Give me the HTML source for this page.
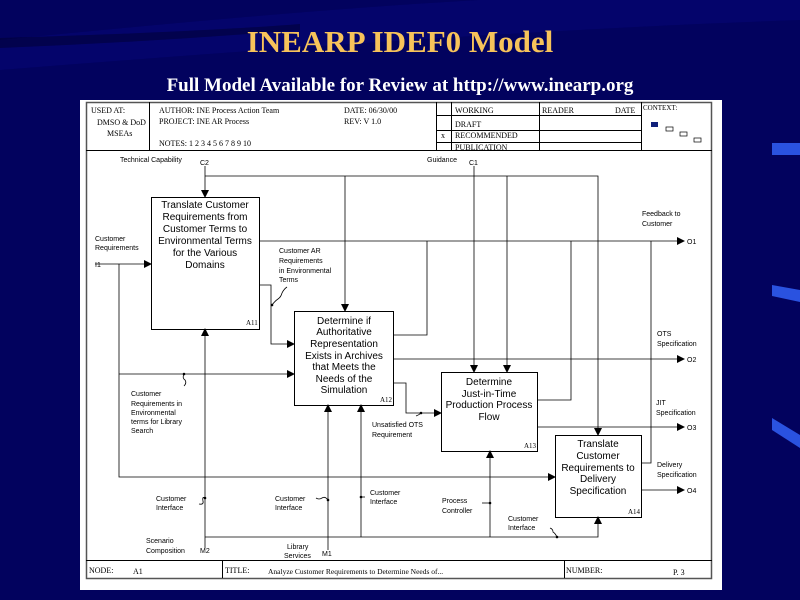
<!DOCTYPE html>
<html><head><meta charset="utf-8"><style>
html,body{margin:0;padding:0;width:800px;height:600px;overflow:hidden;background:#02025e}
svg{display:block}
.s{font-family:"Liberation Serif",serif;font-size:8px;fill:#000}
.a{font-family:"Liberation Sans",sans-serif;font-size:7px;fill:#000}
.b{font-family:"Liberation Sans",sans-serif;font-size:10px;fill:#000}
</style></head><body>
<svg width="800" height="600" viewBox="0 0 800 600" xmlns="http://www.w3.org/2000/svg">
<defs><marker id="ar" markerWidth="8" markerHeight="8" refX="7" refY="4" orient="auto" markerUnits="userSpaceOnUse"><path d="M0,0 L8,4 L0,8z" fill="#000"/></marker></defs>
<rect width="800" height="600" fill="#02025e"/>
<path d="M0,40 Q300,10 480,0 L800,0 L800,20 Q500,30 0,70z" fill="#050577" opacity="0.5"/>
<path d="M0,38 Q200,32 300,24 L300,30 Q150,42 0,48z" fill="#000030" opacity="0.5"/>
<rect x="772" y="143" width="28" height="12" fill="#2a52e0"/>
<polygon points="772,285 800,290 800,302 772,296" fill="#2a52e0"/>
<polygon points="772,418 800,435 800,448 772,430" fill="#2a52e0"/>
<text x="400" y="52" text-anchor="middle" font-family="Liberation Serif,serif" font-weight="bold" font-size="31" fill="#f7c35a">INEARP IDEF0 Model</text>
<text x="400" y="91" text-anchor="middle" font-family="Liberation Serif,serif" font-weight="bold" font-size="19" fill="#fff">Full Model Available for Review at http://www.inearp.org</text>
<rect x="80" y="100" width="642" height="490" fill="#fff"/>
<g fill="none" stroke="#000" stroke-width="1">
<rect x="86.5" y="102.5" width="625" height="476" stroke="#555" stroke-width="1.5"/>
<line x1="86" y1="150.5" x2="712" y2="150.5"/>
<line x1="149.5" y1="102" x2="149.5" y2="150"/>
<line x1="436.5" y1="102" x2="436.5" y2="150"/>
<line x1="451.5" y1="102" x2="451.5" y2="150"/>
<line x1="539.5" y1="102" x2="539.5" y2="150"/>
<line x1="641.5" y1="102" x2="641.5" y2="150"/>
<line x1="436" y1="115.5" x2="641" y2="115.5"/>
<line x1="436" y1="130.5" x2="641" y2="130.5"/>
<line x1="436" y1="142.5" x2="641" y2="142.5"/>
<line x1="86" y1="560.5" x2="712" y2="560.5"/>
<line x1="222.5" y1="560" x2="222.5" y2="578"/>
<line x1="564.5" y1="560" x2="564.5" y2="578"/>
</g>
<rect x="651" y="122" width="7" height="5" fill="#10207a"/>
<g fill="none" stroke="#000" stroke-width="0.7"><rect x="666" y="127" width="7" height="4"/><rect x="680" y="132" width="7" height="4"/><rect x="694" y="138" width="7" height="4"/></g>
<g class="s">
<text x="91" y="113">USED AT:</text>
<text x="97" y="125">DMSO &amp; DoD</text><text x="107" y="136">MSEAs</text>
<text x="159" y="113">AUTHOR:  INE Process Action Team</text>
<text x="159" y="124">PROJECT:  INE AR Process</text>
<text x="159" y="146">NOTES:  1  2  3  4  5  6  7  8  9  10</text>
<text x="344" y="113">DATE:  06/30/00</text>
<text x="344" y="124">REV:    V 1.0</text>
<text x="455" y="113">WORKING</text><text x="455" y="127">DRAFT</text>
<text x="441" y="138">x</text><text x="455" y="138">RECOMMENDED</text>
<text x="455" y="150">PUBLICATION</text>
<text x="542" y="113">READER</text><text x="615" y="113">DATE</text>
<text x="643" y="110" font-size="7">CONTEXT:</text>
<text x="89" y="573">NODE:</text><text x="133" y="574">A1</text>
<text x="225" y="573">TITLE:</text>
<text x="268" y="574" font-size="7.5">Analyze Customer Requirements to Determine  Needs of...</text>
<text x="566" y="573">NUMBER:</text><text x="673" y="575">P. 3</text>
<text x="246" y="325" font-size="7">A11</text><text x="380" y="402" font-size="7">A12</text>
<text x="524" y="448" font-size="7">A13</text><text x="628" y="514" font-size="7">A14</text>
</g>
<g fill="none" stroke="#000" stroke-width="1">
<rect x="151.5" y="197.5" width="108" height="132"/>
<rect x="294.5" y="311.5" width="99" height="94"/>
<rect x="441.5" y="372.5" width="96" height="79"/>
<rect x="555.5" y="435.5" width="86" height="82"/>
</g>
<g fill="none" stroke="#000" stroke-width="0.8">
<path d="M205,166 V197" marker-end="url(#ar)"/>
<path d="M205,176 H598 V435" marker-end="url(#ar)"/>
<path d="M345,176 V311" marker-end="url(#ar)"/>
<path d="M507,176 V372" marker-end="url(#ar)"/>
<path d="M474,166 V372" marker-end="url(#ar)"/>
<path d="M259,241 H684" marker-end="url(#ar)"/>
<path d="M393,335 H427 V241"/>
<path d="M537,400 H571 V241"/>
<path d="M641,463 H651 V241"/>
<path d="M393,359 H684" marker-end="url(#ar)"/>
<path d="M537,427 H684" marker-end="url(#ar)"/>
<path d="M641,490 H684" marker-end="url(#ar)"/>
<path d="M259,285 H271 V344 H294" marker-end="url(#ar)"/>
<path d="M95,264 H151" marker-end="url(#ar)"/>
<path d="M119,264 V477 H555" marker-end="url(#ar)"/>
<path d="M119,374 H294" marker-end="url(#ar)"/>
<path d="M393,383 H406 V413 H441" marker-end="url(#ar)"/>
<path d="M205,548 V329" marker-end="url(#ar)"/>
<path d="M205,537 H598 V517" marker-end="url(#ar)"/>
<path d="M328,550 V405" marker-end="url(#ar)"/>
<path d="M361,537 V405" marker-end="url(#ar)"/>
<path d="M490,537 V451" marker-end="url(#ar)"/>
<path d="M272,305 q3,-4 6,-6 q3,-2 4,-6 q2,-4 5,-6"/>
<path d="M184,374 q-2,4 1,6 q2,3 -1,6"/>
<path d="M205,498 q-3,-2 -2,3 q1,4 -4,3"/>
<path d="M328,500 q-3,-4 -6,-2 q-3,2 -6,0"/>
<path d="M361,497 H365"/>
<path d="M490,503 H482"/>
<path d="M421,413 q-2,2 -5,3"/>
<path d="M557,537 q-2,-4 -4,-5 q0,-3 -3,-4"/>
</g>
<g fill="#000"><circle cx="272" cy="305" r="1.3"/><circle cx="184" cy="374" r="1.3"/><circle cx="205" cy="498" r="1.3"/><circle cx="328" cy="500" r="1.3"/><circle cx="361" cy="497" r="1.3"/><circle cx="490" cy="503" r="1.3"/><circle cx="421" cy="413" r="1.3"/><circle cx="557" cy="537" r="1.3"/></g>
<g class="b" text-anchor="middle">
<text x="205" y="208">Translate Customer</text><text x="205" y="220">Requirements from</text><text x="205" y="232">Customer Terms to</text><text x="205" y="244">Environmental Terms</text><text x="205" y="256">for the Various</text><text x="205" y="268">Domains</text>
<text x="344" y="324">Determine if</text><text x="344" y="335">Authoritative</text><text x="344" y="347">Representation</text><text x="344" y="359">Exists in Archives</text><text x="344" y="370">that Meets the</text><text x="344" y="382">Needs of the</text><text x="344" y="393">Simulation</text>
<text x="489" y="385">Determine</text><text x="489" y="397">Just-in-Time</text><text x="489" y="408">Production Process</text><text x="489" y="420">Flow</text>
<text x="598" y="447">Translate</text><text x="598" y="459">Customer</text><text x="598" y="471">Requirements to</text><text x="598" y="482">Delivery</text><text x="598" y="494">Specification</text>
</g>
<g class="a">
<text x="120" y="162">Technical Capability</text><text x="200" y="165">C2</text>
<text x="427" y="162">Guidance</text><text x="469" y="165">C1</text>
<text x="642" y="216">Feedback to</text><text x="642" y="226">Customer</text>
<text x="687" y="244">O1</text><text x="687" y="362">O2</text><text x="687" y="430">O3</text><text x="687" y="493">O4</text>
<text x="95" y="241">Customer</text><text x="95" y="250">Requirements</text><text x="95" y="267">I1</text>
<text x="279" y="253">Customer AR</text><text x="279" y="263">Requirements</text><text x="279" y="273">in Environmental</text><text x="279" y="282">Terms</text>
<text x="657" y="336">OTS</text><text x="657" y="346">Specification</text>
<text x="656" y="405">JIT</text><text x="656" y="415">Specification</text>
<text x="657" y="467">Delivery</text><text x="657" y="477">Specification</text>
<text x="131" y="396">Customer</text><text x="131" y="406">Requirements in</text><text x="131" y="415">Environmental</text><text x="131" y="424">terms for Library</text><text x="131" y="433">Search</text>
<text x="372" y="427">Unsatisfied OTS</text><text x="372" y="437">Requirement</text>
<text x="156" y="501">Customer</text><text x="156" y="510">Interface</text>
<text x="275" y="501">Customer</text><text x="275" y="510">Interface</text>
<text x="370" y="495">Customer</text><text x="370" y="504">Interface</text>
<text x="442" y="503">Process</text><text x="442" y="513">Controller</text>
<text x="508" y="521">Customer</text><text x="508" y="530">Interface</text>
<text x="146" y="543">Scenario</text><text x="146" y="553">Composition</text><text x="200" y="553">M2</text>
<text x="287" y="549">Library</text><text x="284" y="558">Services</text><text x="322" y="556">M1</text>
</g>
</svg>
</body></html>
